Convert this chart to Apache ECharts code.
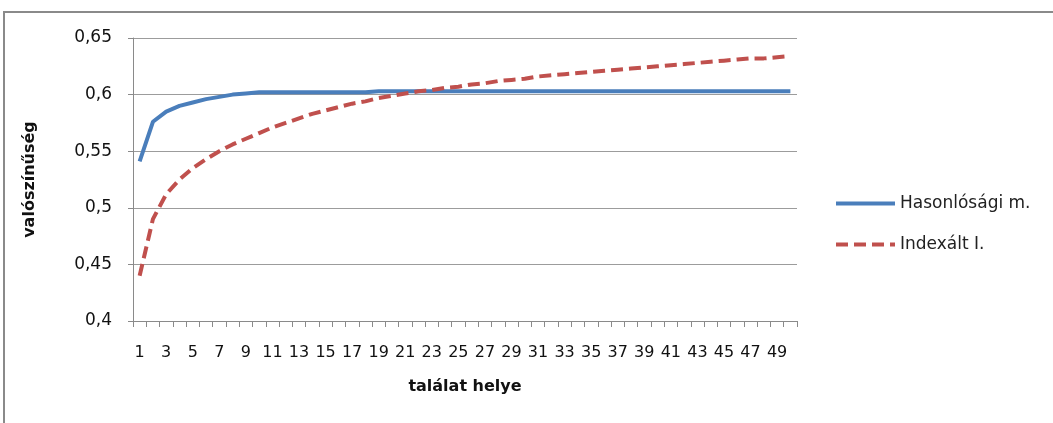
<!DOCTYPE html>
<html>
<head>
<meta charset="utf-8">
<script src="https://cdn.jsdelivr.net/npm/echarts@6/dist/echarts.min.js"></script>
<style>
  html, body { margin: 0; padding: 0; background: #fff; }
  #chart { width: 1053px; height: 423px; }
</style>
</head>
<body>
<div id="chart"></div>
<script>
// találat helye 1..50
const positions = Array.from({ length: 50 }, (_, i) => String(i + 1));

const hasonlosagi = [
  0.541, 0.576, 0.585, 0.590, 0.593, 0.596, 0.598, 0.600, 0.601, 0.602,
  0.602, 0.602, 0.602, 0.602, 0.602, 0.602, 0.602, 0.602, 0.603, 0.603,
  0.603, 0.603, 0.603, 0.603, 0.603, 0.603, 0.603, 0.603, 0.603, 0.603,
  0.603, 0.603, 0.603, 0.603, 0.603, 0.603, 0.603, 0.603, 0.603, 0.603,
  0.603, 0.603, 0.603, 0.603, 0.603, 0.603, 0.603, 0.603, 0.603, 0.603
];

const indexalt = [
  0.440, 0.490, 0.512, 0.525, 0.535, 0.543, 0.550, 0.556, 0.561, 0.566,
  0.571, 0.575, 0.579, 0.583, 0.586, 0.589, 0.592, 0.594, 0.597, 0.599,
  0.601, 0.603, 0.604, 0.606, 0.607, 0.609, 0.610, 0.612, 0.613, 0.614,
  0.616, 0.617, 0.618, 0.619, 0.620, 0.621, 0.622, 0.623, 0.624, 0.625,
  0.626, 0.627, 0.628, 0.629, 0.630, 0.631, 0.632, 0.632, 0.633, 0.634
];

const yTickLabels = ['0,4', '0,45', '0,5', '0,55', '0,6', '0,65'];

const font = '"DejaVu Sans", "Noto Sans", sans-serif';

const chart = echarts.init(document.getElementById('chart'));

chart.setOption({
  animation: false,
  textStyle: { fontFamily: font },
  graphic: [{
    type: 'rect',
    shape: { x: 4, y: 12, width: 1200, height: 600 },
    style: { fill: 'none', stroke: '#8a8a8a', lineWidth: 2 },
    silent: true
  }],
  grid: { left: 133, right: 256, top: 38, bottom: 102 },
  legend: {
    orient: 'vertical',
    left: 829,
    top: 190,
    itemWidth: 59,
    itemHeight: 14,
    itemGap: 24,
    itemStyle: { opacity: 0 },
    lineStyle: { width: 4 },
    textStyle: { fontSize: 17, color: '#222', fontFamily: font }
  },
  xAxis: {
    type: 'category',
    data: positions,
    boundaryGap: true,
    name: 'találat helye',
    nameLocation: 'middle',
    nameGap: 58,
    nameTextStyle: { fontSize: 16, fontWeight: 'bold', color: '#111', fontFamily: font },
    axisLine: { lineStyle: { color: '#8a8a8a', width: 1 } },
    axisTick: { show: true, interval: 0, length: 6, lineStyle: { color: '#8a8a8a' } },
    axisLabel: { interval: 1, margin: 24, fontSize: 16, color: '#111', fontFamily: font }
  },
  yAxis: {
    type: 'value',
    min: 0.4,
    max: 0.65,
    interval: 0.05,
    name: 'valószínűség',
    nameLocation: 'middle',
    nameGap: 95,
    nameTextStyle: { fontSize: 16, fontWeight: 'bold', color: '#111', fontFamily: font },
    axisLine: { show: true, lineStyle: { color: '#8a8a8a', width: 1 } },
    axisTick: { show: true, length: 5, lineStyle: { color: '#8a8a8a' } },
    splitLine: { lineStyle: { color: '#9c9c9c', width: 1 } },
    axisLabel: {
      margin: 21,
      fontSize: 17,
      color: '#111',
      fontFamily: font,
      formatter: v => yTickLabels[Math.round((v - 0.4) / 0.05)]
    }
  },
  series: [
    {
      name: 'Hasonlósági m.',
      type: 'line',
      data: hasonlosagi,
      symbol: 'none',
      lineStyle: { color: '#4a7ebb', width: 4 },
      itemStyle: { color: '#4a7ebb' }
    },
    {
      name: 'Indexált I.',
      type: 'line',
      data: indexalt,
      symbol: 'none',
      lineStyle: { color: '#c0504d', width: 4, type: [12, 6] },
      itemStyle: { color: '#c0504d' }
    }
  ]
});
</script>
</body>
</html>
